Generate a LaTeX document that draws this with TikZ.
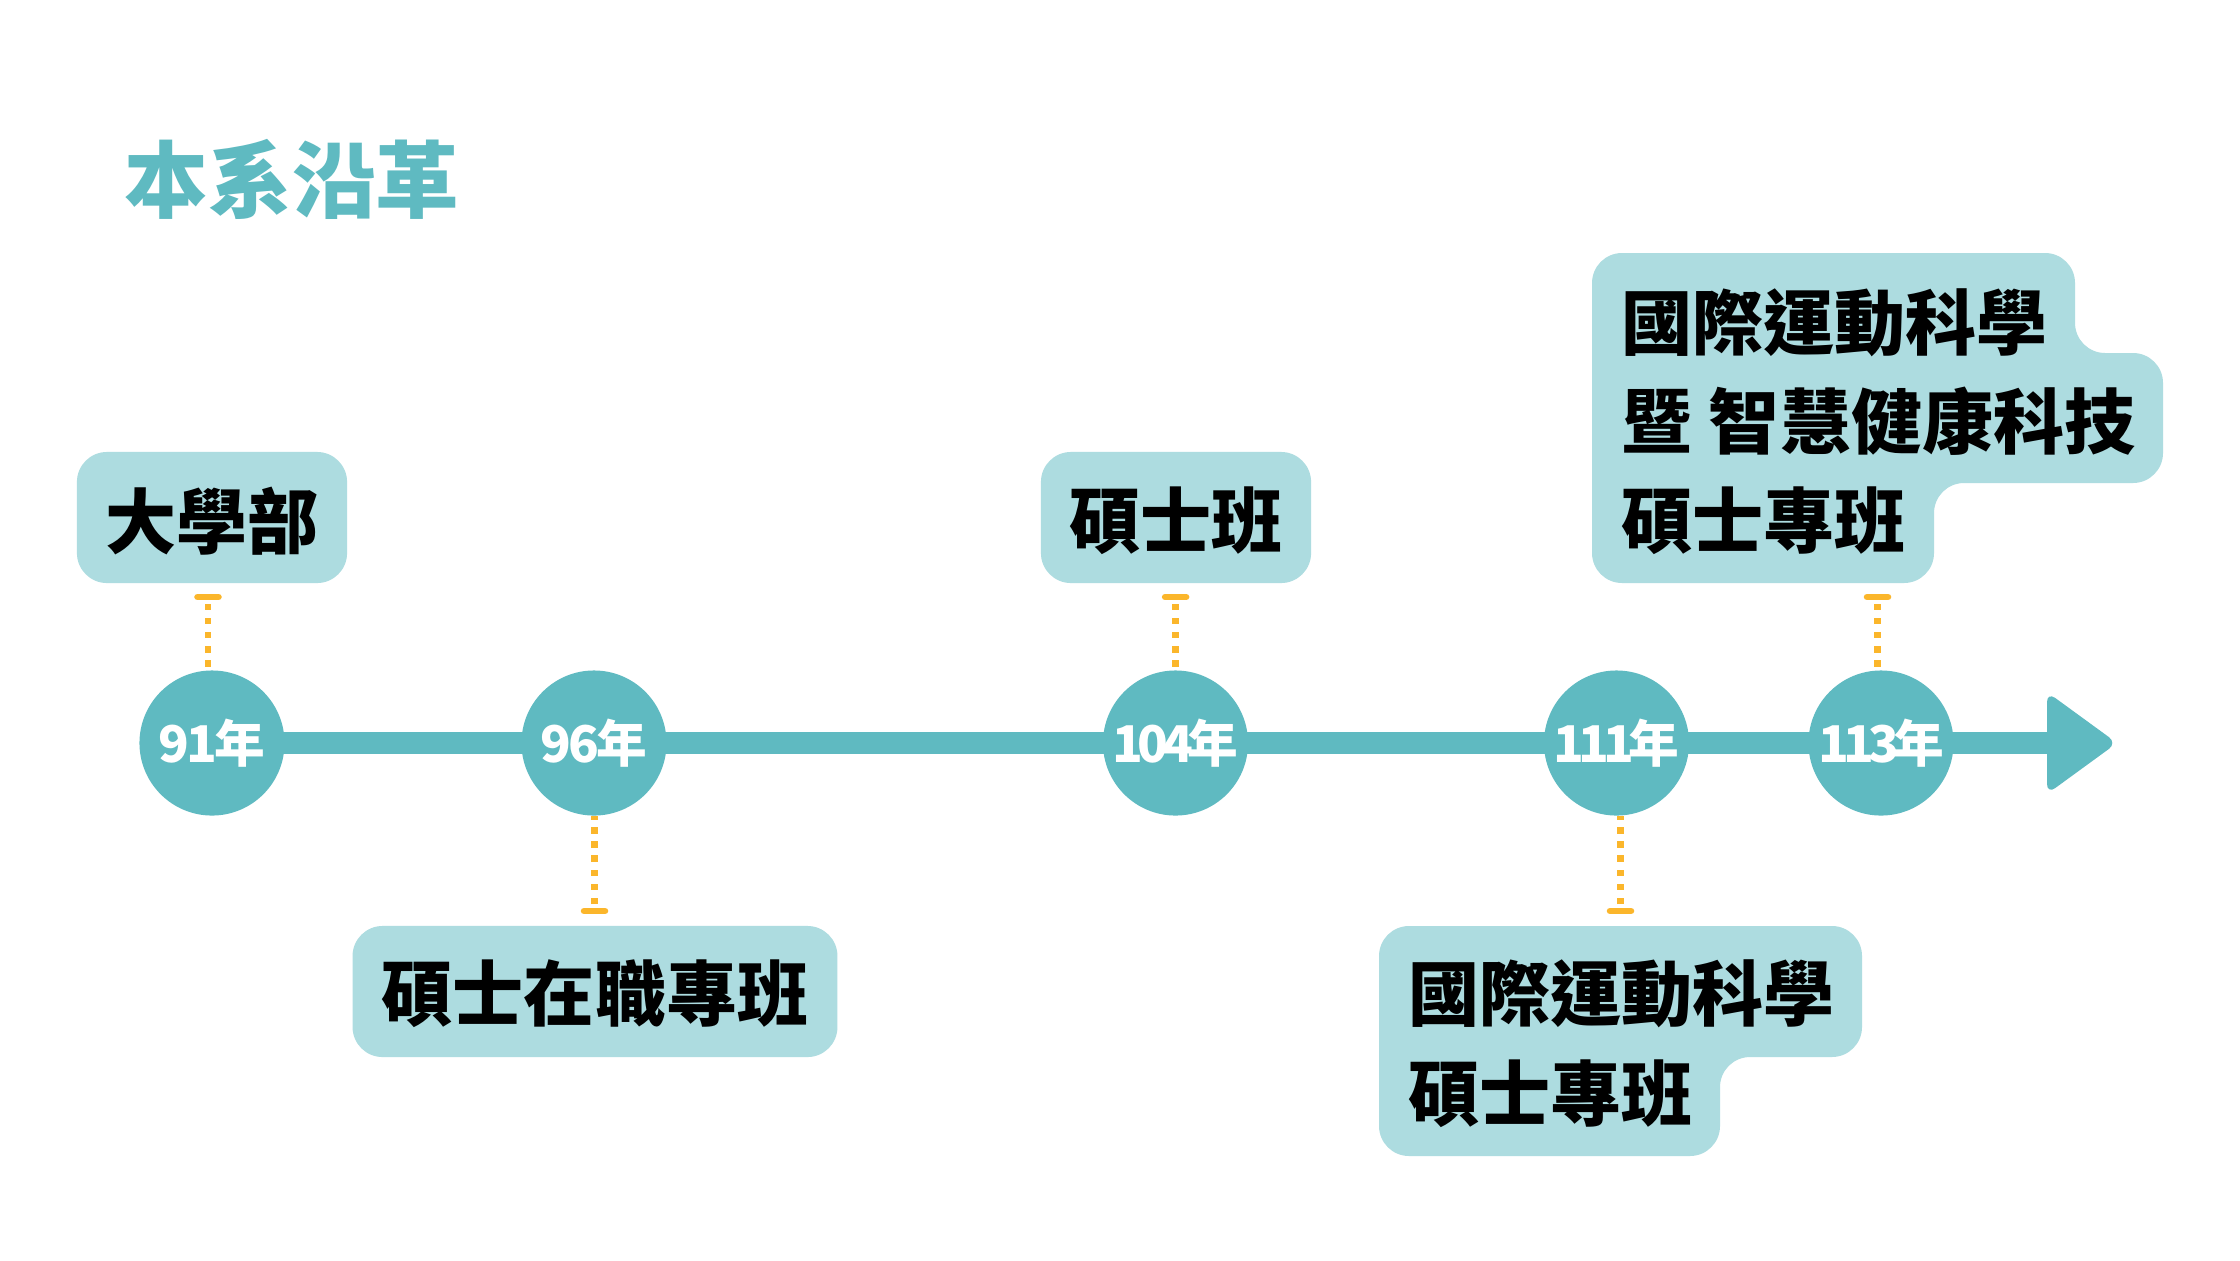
\documentclass[tikz,border=0pt]{standalone}
\usepackage{fontspec}
\setmainfont{Noto Sans CJK TC}
\usetikzlibrary{backgrounds}
\definecolor{tealc}{HTML}{5FBAC1}
\definecolor{boxc}{HTML}{ADDCE0}
\definecolor{orngc}{HTML}{FBB62B}
\newcommand{\lblfont}{\bfseries\fontsize{20.2pt}{24pt}\selectfont}
\newcommand{\yrfont}{\bfseries\fontsize{14.4pt}{16pt}\selectfont}
\newcommand{\ttlfont}{\bfseries\fontsize{23.75pt}{28pt}\selectfont}
\newcommand{\ka}{\kern-0.8pt}
\newcommand{\kb}{\kern-1.7pt}
\tikzset{
  yearc/.style={circle, fill=tealc, minimum size=1.45cm, inner sep=0pt, text=white, font=\yrfont},
  lbox/.style={fill=boxc, rounded corners=0.3cm, inner sep=0pt, minimum height=1.31cm},
  ltext/.style={inner sep=0pt, font=\lblfont, text=black},
  conn/.style={draw=orngc, line width=1.85pt, dash pattern=on 1.8pt off 2.2pt},
  tbar/.style={draw=orngc, line width=1.85pt, line cap=round},
  axisline/.style={draw=tealc, line width=6.26pt},
  ttl/.style={inner sep=0pt, font=\ttlfont, text=tealc}
}
\begin{document}
\begin{tikzpicture}[x=0.01cm,y=-0.01cm]
\useasboundingbox (0,0) rectangle (2240,1260);

% title
\node[ttl] (title) at (292,179.5) {本系沿革};

% year circles
\node[yearc] (y91) at (212,743) {9\ka{}1\ka{}年};
\node[yearc] (y96) at (594,743) {9\ka{}6\ka{}年};
\node[yearc] (y104) at (1175.5,743) {1\kb{}0\kb{}4\kb{}年};
\node[yearc] (y111) at (1616.5,743) {1\kb{}1\kb{}1\kb{}年};
\node[yearc] (y113) at (1881,743) {1\kb{}1\kb{}3\kb{}年};
\coordinate (abase) at (2047,743);

\begin{scope}[on background layer]
  \fill[white] (0,0) rectangle (2240,1260);
  \draw[axisline] (y91.center) -- (abase);
\end{scope}
\fill[tealc, rounded corners=0.1cm] (2047,692) -- (2117,743) -- (2047,794) -- cycle;

% single-line boxes
\node[lbox, minimum width=2.7cm] (b91) at (212,517.5) {};
\node[ltext] (t91) at (212,521) {大學部};
\node[lbox, minimum width=2.7cm] (b104) at (1176,517.5) {};
\node[ltext] (t104) at (1176,520.5) {碩士班};
\node[lbox, minimum width=4.846cm] (b96) at (595,991.5) {};
\node[ltext] (t96) at (595,994) {碩士在職專班};

% notched box 113
\fill[boxc, rounded corners=0.3cm] (1592,583) -- (1592,253) -- (2075,253) -- (2075,353) -- (2163,353) -- (2163,483) -- (1934,483) -- (1934,583) -- cycle;
\node[ltext, anchor=west] (t113a) at (1621,323) {國際運動科學};
\node[ltext, anchor=west] (t113b) at (1621,421) {暨 智慧健康科技};
\node[ltext, anchor=west] (t113c) at (1621,520.5) {碩士專班};

% notched box 111
\fill[boxc, rounded corners=0.3cm] (1379,1156) -- (1379,926) -- (1862,926) -- (1862,1057) -- (1720,1057) -- (1720,1156) -- cycle;
\node[ltext, anchor=west] (t111a) at (1408,994) {國際運動科學};
\node[ltext, anchor=west] (t111b) at (1408,1094) {碩士專班};

% connectors
\coordinate (k91) at (208,597);
\coordinate (k104) at (1175.6,597);
\coordinate (k113) at (1877.5,597);
\coordinate (k96) at (594.5,911);
\coordinate (k111) at (1620.5,911);
\foreach \k/\y in {k91/y91, k104/y104, k113/y113}{
  \draw[tbar] ([xshift=-0.105cm]\k) -- ([xshift=0.105cm]\k);
  \draw[conn] ([yshift=-0.07cm]\k) -- (\k |- \y.north);
}
\foreach \k/\y in {k96/y96, k111/y111}{
  \draw[tbar] ([xshift=-0.105cm]\k) -- ([xshift=0.105cm]\k);
  \draw[conn] ([yshift=0.07cm]\k) -- (\k |- \y.south);
}
\end{tikzpicture}
\end{document}
